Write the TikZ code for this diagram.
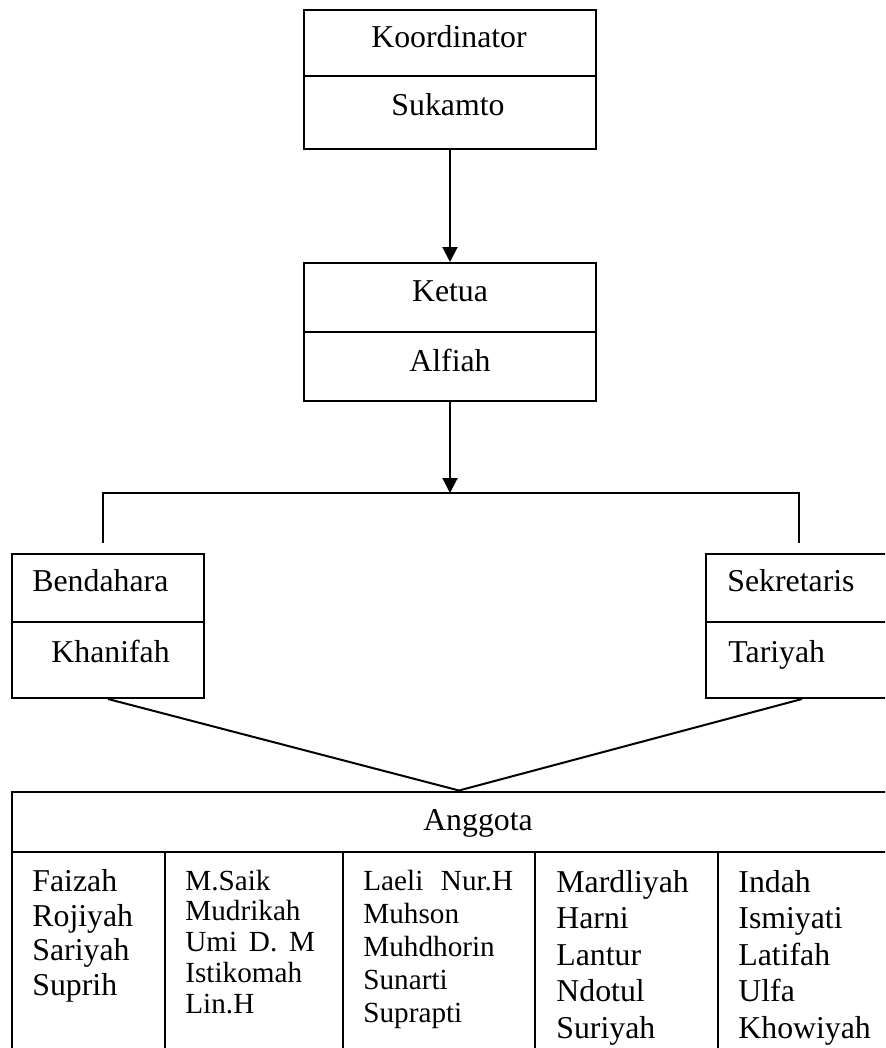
\documentclass[tikz,border=0pt]{standalone}
\usepackage{fontspec}
\setmainfont{Liberation Serif}
\usetikzlibrary{arrows.meta}
\tikzset{box/.style={draw,line width=1pt,inner sep=0pt,anchor=north west},
 boxtext/.style={anchor=base,inner sep=0pt,font=\fontsize{15.9}{18}\selectfont},
 member/.style={anchor=base west,inner sep=0pt,font=\fontsize{15.9}{18}\selectfont},
 smallmember/.style={member,font=\fontsize{14.6}{17}\selectfont},
 conn/.style={line width=1pt},
 arr/.style={conn,-{Triangle[length=7.5pt,width=7.5pt]}},
 }

\begin{document}
\begin{tikzpicture}[x=0.5pt,y=-0.5pt]
        \clip (0,0) rectangle (885,1048);
        % boxes
        \node[box,minimum width=146pt,minimum height=69.5pt] (koor) at (303,9) {};
        \node[box,minimum width=146pt,minimum height=69pt] (ketua) at (303,262) {};
        \node[box,minimum width=96pt,minimum height=72pt] (bend) at (11,553) {};
        \node[box,minimum width=96pt,minimum height=72pt] (sekr) at (705,553) {};
        \node[box,minimum width=450pt,minimum height=135pt] (ang) at (11,790.5) {};
        \draw[conn] (koor.west |- 0,76) -- (koor.east |- 0,76);
        \draw[conn] (ketua.west |- 0,332) -- (ketua.east |- 0,332);
        \draw[conn] (bend.west |- 0,622) -- (bend.east |- 0,622);
        \draw[conn] (sekr.west |- 0,622) -- (sekr.east |- 0,622);
        \draw[conn] (ang.west |- 0,852) -- (ang.east |- 0,852);
        \foreach \x in {165,343,535,718}
            \draw[conn] (\x,852) -- (\x,1060);
        % texts
        \node[boxtext] (koort) at (449,47.7) {Koordinator};
        \node[boxtext] (koorn) at (448,116) {Sukamto};
        \node[boxtext] (ketuat) at (450,301.7) {Ketua};
        \node[boxtext] (ketuan) at (450,371) {Alfiah};
        \node[member] (bendt) at (32,591.7) {Bendahara};
        \node[member] (bendn) at (51,662.7) {Khanifah};
        \node[member] (sekrt) at (727,591.7) {Sekretaris};
        \node[member] (sekrn) at (728,662.7) {Tariyah};
        \node[boxtext] (angt) at (478,830) {Anggota};
        \foreach \m [count=\i from 0] in {Faizah,Rojiyah,Sariyah,Suprih}
            \node[member] (ca\i) at (32,891.7+34.5*\i) {\m};
        \foreach \m [count=\i from 0] in {M.Saik,Mudrikah,Umi\hspace{0.4em}D.\hspace{0.4em}M,Istikomah,Lin.H}
            \node[smallmember] (cb\i) at (185,890+30.8*\i) {\m};
        \foreach \m [count=\i from 0] in {Laeli\hspace{0.6em}Nur.H,Muhson,Muhdhorin,Sunarti,Suprapti}
            \node[smallmember] (cc\i) at (363,890+33.2*\i) {\m};
        \foreach \m [count=\i from 0] in {Mardliyah,Harni,Lantur,Ndotul,Suriyah}
            \node[member] (cd\i) at (556,892+36.5*\i) {\m};
        \foreach \m [count=\i from 0] in {Indah,Ismiyati,Latifah,Ulfa,Khowiyah}
            \node[member] (ce\i) at (738,892+36.5*\i) {\m};
        % connectors
        \coordinate (hub) at (449,493);
        \coordinate (bendup) at (103,543);
        \coordinate (sekrup) at (799,543);
        \coordinate (apex) at (459,790.5);
        \draw[arr] (koor.south) -- (ketua.north);
        \draw[arr] (ketua.south) -- (ketua.south |- hub);
        \draw[conn] (bendup) |- (hub) -| (sekrup);
        \draw[conn] (bend.south) -- (apex) -- (sekr.south);
    \end{tikzpicture}
\end{document}
